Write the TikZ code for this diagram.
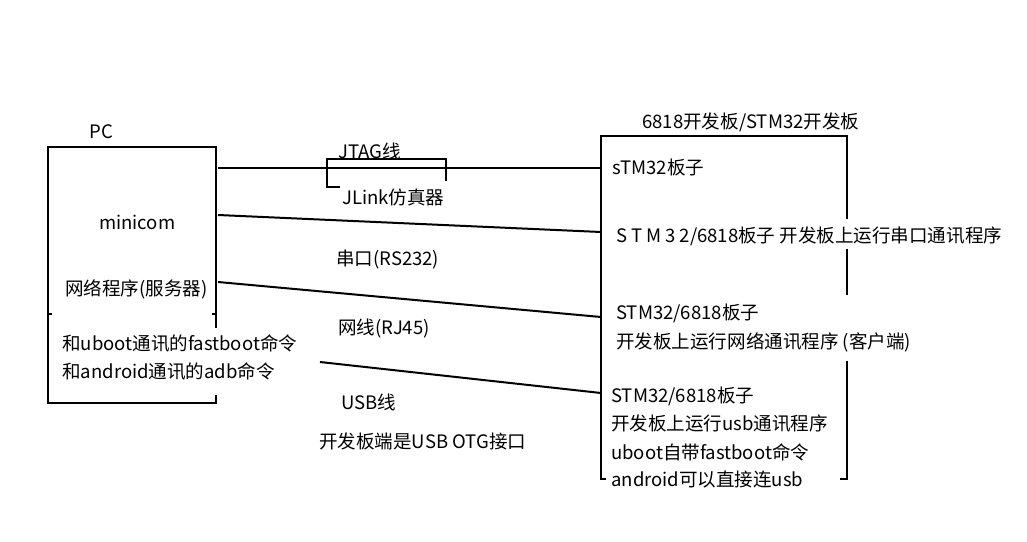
\documentclass[tikz,border=0pt]{standalone}
\usepackage{fontspec}
\setmainfont{Noto Sans CJK SC}
\begin{document}
\begin{tikzpicture}[x=0.75pt,y=-0.75pt,
  txt/.style={anchor=base west, inner sep=0pt, font=\fontsize{13.9pt}{21pt}\selectfont},
  edge/.style={line width=1.5pt, line cap=rect},
  wire/.style={line width=1.5pt}]
\useasboundingbox[fill=white] (0,0) rectangle (1027,542);

% PC box
\draw[edge] (216,327) -- (216,147) -- (48,147) -- (48,403) -- (216,403) -- (216,396);
\draw[edge] (48,314) -- (51,314);
\draw[edge] (213,314) -- (216,314);

% board box
\draw[edge] (847,218) -- (847,136) -- (601,136) -- (601,479) -- (605,479);
\draw[edge] (847,250) -- (847,294);
\draw[edge] (847,362) -- (847,479) -- (841,479);

% connector end points
\coordinate (pcA) at (218,168);
\coordinate (bdA) at (601,168);
\coordinate (pcB) at (218,215);
\coordinate (bdB) at (601,232);
\coordinate (pcC) at (218,282);
\coordinate (bdC) at (601,317);
\coordinate (usbA) at (320,362);
\coordinate (bdD) at (601,393);

\draw[wire] (pcA) -- (bdA);
\draw[wire] (pcB) -- (bdB);
\draw[wire] (pcC) -- (bdC);
\draw[wire] (usbA) -- (bdD);

% JLink bracket
\coordinate (brA) at (340,187);
\coordinate (brB) at (327,187);
\coordinate (brC) at (327,159);
\coordinate (brD) at (446,159);
\coordinate (brE) at (446,181);
\draw[wire] (brA) -- (brB) -- (brC) -- (brD) -- (brE);

% texts left
\node[txt] (pc) at (89,138) {PC};
\node[txt] (mini) at (99,229) {minicom};
\node[txt] (net) at (65,295) {网络程序(服务器)};
\node[txt] (fb) at (62,350) {和uboot通讯的fastboot命令};
\node[txt] (adb) at (62,378) {和android通讯的adb命令};

% middle labels
\node[txt] (jtag) at (338,158) {JTAG线};
\node[txt] (jlink) at (342,204) {JLink仿真器};
\node[txt] (rs) at (336,265) {串口(RS232)};
\node[txt] (rj) at (338,334) {网线(RJ45)};
\node[txt] (usb) at (341,409) {USB线};
\node[txt] (otg) at (319,448) {开发板端是USB OTG接口};

% board texts
\node[txt] (bdt) at (642,128) {6818开发板/STM32开发板};
\node[txt] (s1) at (612,174) {sTM32板子};
\node[txt] (s2) at (616,242) {S\kern3pt T\kern3pt M\kern3pt 3\kern3pt 2/6818板子 开发板上运行串口通讯程序};
\node[txt] (s3a) at (616,319) {STM32/6818板子};
\node[txt] (s3b) at (616,348) {开发板上运行网络通讯程序 (客户端)};
\node[txt] (s4a) at (611,402) {STM32/6818板子};
\node[txt] (s4b) at (611,430) {开发板上运行usb通讯程序};
\node[txt] (s4c) at (611,459) {uboot自带fastboot命令};
\node[txt] (s4d) at (611,486) {android可以直接连usb};
\end{tikzpicture}
\end{document}
